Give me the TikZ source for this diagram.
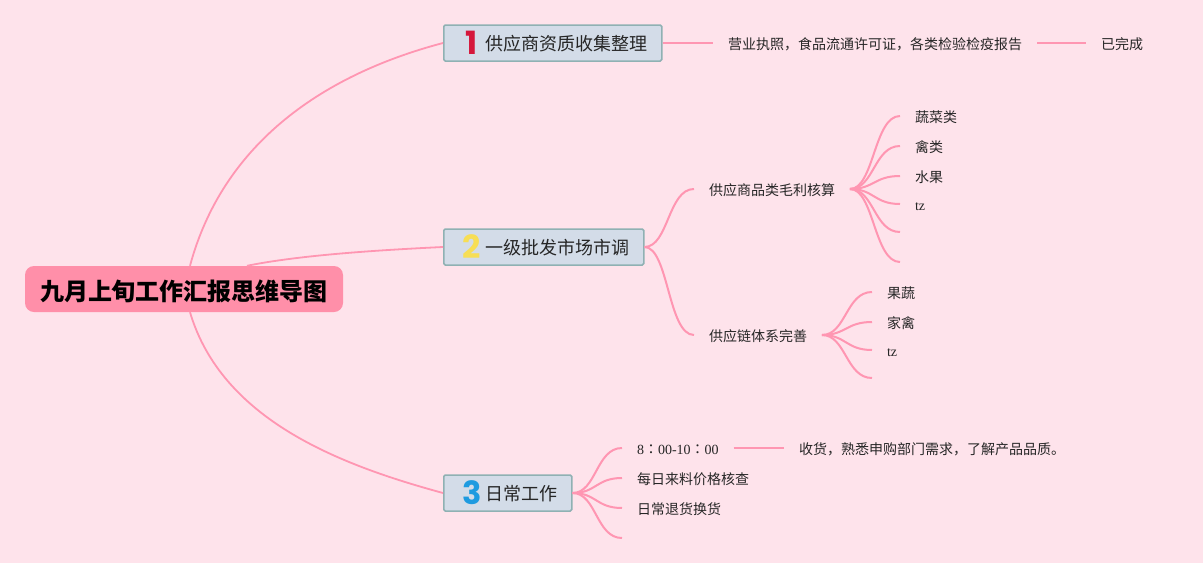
\documentclass[tikz,border=0pt]{standalone}
\usepackage{fontspec}
\usepackage{tikz}
\setmainfont{Noto Sans CJK SC}
\newfontfamily\latinfont{Liberation Serif}
\newfontfamily\numfont{Poppins}
\newfontfamily\colonfont{Noto Sans CJK TC}
\definecolor{pagebg}{HTML}{FEE3EB}
\definecolor{rootfill}{HTML}{FF8FA9}
\definecolor{linkpink}{HTML}{FF96B2}
\definecolor{branchfill}{HTML}{D3DCE8}
\definecolor{branchedge}{HTML}{8FB1B3}
\definecolor{markred}{HTML}{D5173B}
\definecolor{markyellow}{HTML}{F7DE55}
\definecolor{markblue}{HTML}{1E9BE0}

\begin{document}
\begin{tikzpicture}[
  x=1pt, y=-1pt,
  rootbox/.style={rectangle, rounded corners=9pt, fill=rootfill, minimum width=318pt, minimum height=46pt, text height=24pt, text depth=2pt, font=\fontsize{24}{28}\selectfont\bfseries},
  branchbox/.style={draw=branchedge, line width=1.5pt, fill=branchfill, rectangle, rounded corners=1.5pt, anchor=west, inner xsep=14pt, inner ysep=0pt, minimum height=36pt, text height=18pt, text depth=3pt, text=black!85, font=\fontsize{18}{22}\selectfont},
  leaf/.style={anchor=west, inner sep=0pt, outer xsep=15pt, text height=15pt, text depth=3pt, text=black!85, font=\fontsize{14}{17}\selectfont},
  latinleaf/.style={leaf, font=\fontsize{14}{17}\selectfont\latinfont},
  link/.style={draw=linkpink, line width=2pt},
  trunk/.style={draw=linkpink, line width=1.8pt}
]
\newcommand{\marker}[2]{\hspace{2pt}\makebox[24pt]{\smash{\raisebox{-3.5pt}{\numfont\fontsize{32}{32}\selectfont\bfseries\color{#1}#2}}}\hspace{2pt}}

% ===== Background =====
\fill[pagebg] (0,0) rectangle (1203,563);

% ===== Root and main branches =====
\node[rootbox] at (184,289) (root) {九月上旬工作汇报思维导图};
\node[branchbox] at (443,43) (supplier) {\marker{markred}{1}供应商资质收集整理};
\node[branchbox] at (443,247) (market) {\marker{markyellow}{2}一级批发市场市调};
\node[branchbox] at (443,493) (daily) {\marker{markblue}{3}日常工作};

\draw[trunk] ([xshift=6pt]root.north) .. controls (222,147) and (318,76) .. (supplier.west);
\draw[trunk] ([xshift=63pt]root.north) .. controls (300,255) and (380,250) .. (market.west);
\draw[trunk] ([xshift=6pt]root.south) .. controls (222,420) and (340,465) .. (daily.west);

% ===== Branch 1 =====
\node[leaf] at (713,43) (licence) {营业执照^^^^ff0c食品流通许可证^^^^ff0c各类检验检疫报告};
\node[leaf] at (1086,43) (finished) {已完成};
\draw[link] (supplier.east) -- (licence.west);
\draw[link] (licence.east) -- (finished.west);

% ===== Branch 2 =====
\node[leaf] at (694,189) (margin) {供应商品类毛利核算};
\node[leaf] at (694,335) (chain) {供应链体系完善};
\draw[link] (market.east) .. controls +(24,0) and +(-26,0) .. (margin.west);
\draw[link] (market.east) .. controls +(24,0) and +(-26,0) .. (chain.west);

% Leaves of margin
\node[leaf] at (900,116) (veg) {蔬菜类};
\node[leaf] at (900,146) (poultry) {禽类};
\node[leaf] at (900,176) (fruit) {水果};
\node[latinleaf] at (900,204) (tzone) {tz};
\coordinate (blankone) at (900,232);
\coordinate (blanktwo) at (900,262);
\draw[link] (margin.east) .. controls +(24,0) and +(-26,0) .. (veg.west);
\draw[link] (margin.east) .. controls +(24,0) and +(-26,0) .. (poultry.west);
\draw[link] (margin.east) .. controls +(24,0) and +(-26,0) .. (fruit.west);
\draw[link] (margin.east) .. controls +(24,0) and +(-26,0) .. (tzone.west);
\draw[link] (margin.east) .. controls +(24,0) and +(-26,0) .. (blankone);
\draw[link] (margin.east) .. controls +(24,0) and +(-26,0) .. (blanktwo);

% Leaves of chain
\node[leaf] at (872,292) (fruitveg) {果蔬};
\node[leaf] at (872,322) (fowl) {家禽};
\node[latinleaf] at (872,350) (tztwo) {tz};
\coordinate (blankthree) at (872,378);
\draw[link] (chain.east) .. controls +(24,0) and +(-26,0) .. (fruitveg.west);
\draw[link] (chain.east) .. controls +(24,0) and +(-26,0) .. (fowl.west);
\draw[link] (chain.east) .. controls +(24,0) and +(-26,0) .. (tztwo.west);
\draw[link] (chain.east) .. controls +(24,0) and +(-26,0) .. (blankthree);

% ===== Branch 3 =====
\node[latinleaf] at (622,448) (hours) {8{\colonfont ^^^^ff1a}00-10{\colonfont ^^^^ff1a}00};
\node[leaf] at (622,478) (price) {每日来料价格核查};
\node[leaf] at (622,508) (returns) {日常退货换货};
\coordinate (blankfour) at (622,538);
\node[leaf] at (784,448) (receive) {收货^^^^ff0c熟悉申购部门需求^^^^ff0c了解产品品质。};
\draw[link] (daily.east) .. controls +(24,0) and +(-26,0) .. (hours.west);
\draw[link] (daily.east) .. controls +(24,0) and +(-26,0) .. (price.west);
\draw[link] (daily.east) .. controls +(24,0) and +(-26,0) .. (returns.west);
\draw[link] (daily.east) .. controls +(24,0) and +(-26,0) .. (blankfour);
\draw[link] (hours.east) -- (receive.west);

\end{tikzpicture}
\end{document}
